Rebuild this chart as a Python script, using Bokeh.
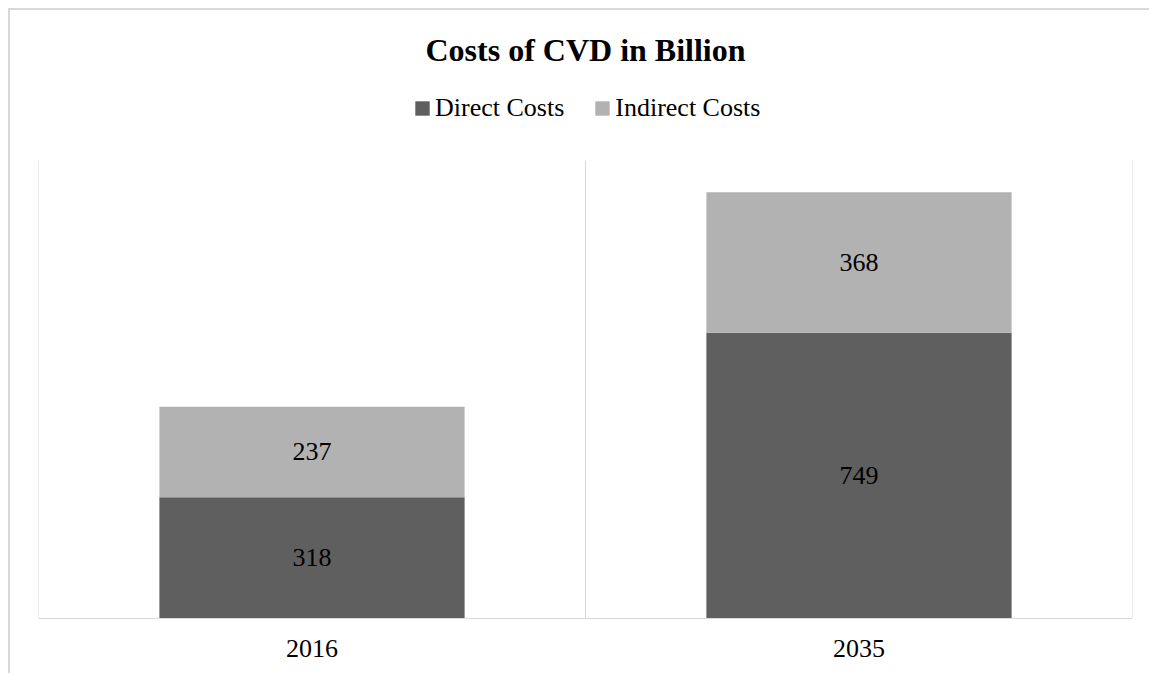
from bokeh.plotting import figure
from bokeh.models import (ColumnDataSource, Range1d, FixedTicker, Legend, LegendItem,
                          LabelSet, Label)
from bokeh.embed import file_html
from bokeh.resources import INLINE

# ---- data ----
years = ["2016", "2035"]
direct_costs = [318, 749]
indirect_costs = [237, 368]
series_names = ["Direct Costs", "Indirect Costs"]
series_colors = ["#5f5f5f", "#b2b2b2"]
title_text = "Costs of CVD in Billion"
value_axis_max = 1200

FONT = "Liberation Serif"

# ---- geometry (pixels) ----
W, H = 1141, 665
FRAME_LEFT, FRAME_RIGHT_PAD, FRAME_BOTTOM_PAD = 28, 19, 57
PLOT_TOP = 150            # canvas y of the value-axis maximum
frame_h = H - FRAME_BOTTOM_PAD
px_per_unit = (frame_h - PLOT_TOP) / value_axis_max
y_top = value_axis_max + PLOT_TOP / px_per_unit

xs = [i + 0.5 for i in range(len(years))]
bounds = list(range(len(years) + 1))
src = ColumnDataSource(dict(
    x=xs,
    direct=direct_costs,
    indirect=indirect_costs,
    direct_mid=[d / 2 for d in direct_costs],
    indirect_mid=[d + i / 2 for d, i in zip(direct_costs, indirect_costs)],
    direct_lbl=[str(v) for v in direct_costs],
    indirect_lbl=[str(v) for v in indirect_costs],
))

p = figure(width=W, height=H, output_backend="svg", toolbar_location=None,
           x_range=Range1d(0, len(years)), y_range=Range1d(0, y_top),
           min_border_left=FRAME_LEFT, min_border_right=FRAME_RIGHT_PAD,
           min_border_top=0, min_border_bottom=FRAME_BOTTOM_PAD)
p.outline_line_color = None
p.background_fill_color = "white"
p.border_fill_color = "white"
p.styles = {"margin-left": "8px", "margin-top": "8px",
            "border-left": "2px solid #d9d9d9", "border-top": "2px solid #d9d9d9"}

# category separator grid lines (plot area only)
p.segment(x0=bounds, y0=[0] * len(bounds), x1=bounds, y1=[value_axis_max] * len(bounds),
          line_color="#d9d9d9", line_width=1)

renderers = p.vbar_stack(["direct", "indirect"], x="x", width=0.558, source=src,
                         color=series_colors, line_color=None)

# axes
p.yaxis.visible = False
p.ygrid.visible = False
p.xgrid.visible = False
p.xaxis.ticker = FixedTicker(ticks=xs)
p.xaxis.major_label_overrides = {x: y for x, y in zip(xs, years)}
p.xaxis.major_tick_line_color = None
p.xaxis.minor_tick_line_color = None
p.xaxis.major_tick_out = 0
p.xaxis.major_tick_in = 0
p.xaxis.major_label_standoff = 21
p.xaxis.axis_line_color = "#d9d9d9"
p.xaxis.axis_line_width = 1
p.xaxis.major_label_text_font = FONT
p.xaxis.major_label_text_font_size = "26px"
p.xaxis.major_label_text_color = "black"

# data labels
for ycol, tcol in [("direct_mid", "direct_lbl"), ("indirect_mid", "indirect_lbl")]:
    p.add_layout(LabelSet(x="x", y=ycol, text=tcol, source=src, text_align="center",
                          text_baseline="middle", text_font=FONT, text_font_size="26px",
                          text_color="black"))

# title
p.add_layout(Label(x=len(years) / 2, y=y_top - 39 / px_per_unit, text=title_text,
                   text_align="center", text_baseline="middle", text_font=FONT,
                   text_font_size="32px", text_font_style="bold", text_color="black"))

# legend
legend = Legend(items=[LegendItem(label=n, renderers=[r]) for n, r in zip(series_names, renderers)],
                orientation="horizontal", location=(375, frame_h - 84 - 29),
                glyph_width=18, glyph_height=18, label_standoff=4, spacing=29,
                padding=0, margin=0, border_line_color=None, background_fill_alpha=0,
                label_text_font=FONT, label_text_font_size="26px", label_text_color="black")
p.add_layout(legend, "center")

open("out.html", "w").write(file_html(p, INLINE))
